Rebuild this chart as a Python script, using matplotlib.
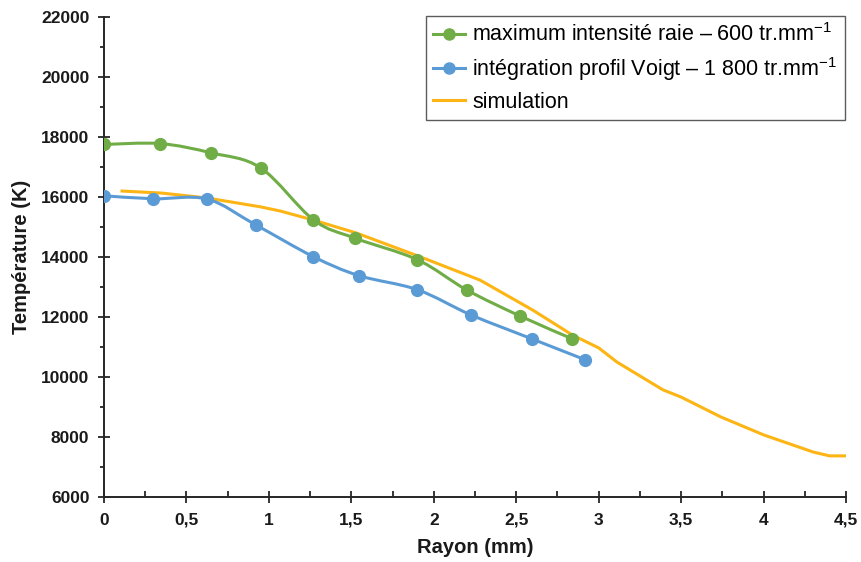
import numpy as np
import matplotlib
matplotlib.use("Agg")
import matplotlib.pyplot as plt
from matplotlib.path import Path
from matplotlib.patches import PathPatch
from matplotlib.lines import Line2D
from matplotlib import font_manager

plt.rcParams["mathtext.fontset"] = "custom"
plt.rcParams["mathtext.rm"] = "Liberation Sans"
plt.rcParams["mathtext.it"] = "Liberation Sans"
plt.rcParams["mathtext.default"] = "rm"

# ---- data ----
green_label = "maximum intensité raie – 600 tr.mm$^{-1}$"
green_x = [0.0, 0.34, 0.65, 0.95, 1.27, 1.52, 1.90, 2.20, 2.52, 2.84]
green_y = [17750, 17780, 17470, 16970, 15240, 14630, 13910, 12900, 12040, 11270]

blue_label = "intégration profil Voigt – 1 800 tr.mm$^{-1}$"
blue_x = [0.0, 0.30, 0.625, 0.92, 1.27, 1.545, 1.90, 2.225, 2.595, 2.92]
blue_y = [16040, 15940, 15930, 15070, 14010, 13380, 12910, 12070, 11270, 10570]

sim_label = "simulation"
sim_x = [0.1, 0.35, 0.62, 0.95, 1.07, 1.27, 1.53, 1.92, 2.28, 2.6, 2.84, 3.0,
         3.11, 3.39, 3.5, 3.74, 4.0, 4.3, 4.4, 4.5]
sim_y = [16200, 16130, 15970, 15670, 15530, 15230, 14800, 14000, 13230, 12230,
         11400, 10970, 10500, 9570, 9330, 8670, 8070, 7500, 7370, 7370]

x_ticks = [0, 0.5, 1, 1.5, 2, 2.5, 3, 3.5, 4, 4.5]
x_ticklabels = ["0", "0,5", "1", "1,5", "2", "2,5", "3", "3,5", "4", "4,5"]
y_ticks = list(range(6000, 22001, 2000))

GREEN = "#70AD47"
BLUE = "#5B9BD5"
ORANGE = "#FDB515"

names = {f.name for f in font_manager.fontManager.ttflist}
narrow = "Liberation Sans Narrow" if "Liberation Sans Narrow" in names else "Liberation Sans"

fig = plt.figure(figsize=(8.61, 5.62), dpi=100)
ax = fig.add_axes([0.1208, 0.1157, 0.8618, 0.8541])


def smooth_path(xs, ys, t=1/6):
    xs = np.asarray(xs, float)
    ys = np.asarray(ys, float)
    n = len(xs)
    verts = [(xs[0], ys[0])]
    codes = [Path.MOVETO]
    for i in range(n - 1):
        p0 = (xs[max(i - 1, 0)], ys[max(i - 1, 0)])
        p1 = (xs[i], ys[i])
        p2 = (xs[i + 1], ys[i + 1])
        p3 = (xs[min(i + 2, n - 1)], ys[min(i + 2, n - 1)])
        c1 = (p1[0] + (p2[0] - p0[0]) * t, p1[1] + (p2[1] - p0[1]) * t)
        c2 = (p2[0] - (p3[0] - p1[0]) * t, p2[1] - (p3[1] - p1[1]) * t)
        verts += [c1, c2, p2]
        codes += [Path.CURVE4] * 3
    return Path(verts, codes)


ax.plot(sim_x, sim_y, color=ORANGE, lw=2.2, zorder=2, solid_capstyle="butt")

for xs, ys, c in [(green_x, green_y, GREEN), (blue_x, blue_y, BLUE)]:
    ax.add_patch(PathPatch(smooth_path(xs, ys), fill=False, edgecolor=c, lw=2.2, zorder=3))
    ax.plot(xs, ys, linestyle="none", marker="o", ms=8.5, color=c, zorder=4)

ax.set_xlim(0, 4.5)
ax.set_ylim(6000, 22000)
ax.set_xticks(x_ticks)
ax.set_xticklabels(x_ticklabels)
ax.set_yticks(y_ticks)
ax.set_xticks(np.arange(0.25, 4.5, 0.5), minor=True)
ax.set_yticks(np.arange(7000, 22000, 2000), minor=True)

for s in ["top", "right"]:
    ax.spines[s].set_visible(False)
for s in ["left", "bottom"]:
    ax.spines[s].set_color("#262626")
    ax.spines[s].set_linewidth(1.4)

ax.tick_params(axis="both", which="major", direction="inout", length=9, width=1.3,
               color="#262626")
ax.tick_params(axis="x", which="major", pad=7)
ax.tick_params(axis="y", which="major", pad=6)
ax.tick_params(axis="x", which="minor", direction="in", length=4, width=1.3, color="#262626")
ax.tick_params(axis="y", which="minor", direction="out", length=3, width=1.3, color="#262626")

for lab in ax.get_xticklabels() + ax.get_yticklabels():
    lab.set_fontfamily(narrow)
    lab.set_fontweight("bold")
    lab.set_fontsize(12.5)
    lab.set_color("#1a1a1a")

ax.set_xlabel("Rayon (mm)", fontfamily="Liberation Sans", fontweight="bold",
              fontsize=14.5, color="#1a1a1a", labelpad=7)
ax.set_ylabel("Température (K)", fontfamily="Liberation Sans", fontweight="bold",
              fontsize=14.5, color="#1a1a1a", labelpad=7)

handles = [
    Line2D([], [], color=GREEN, lw=2.2, marker="o", ms=8),
    Line2D([], [], color=BLUE, lw=2.2, marker="o", ms=8),
    Line2D([], [], color=ORANGE, lw=2.2),
]
leg = ax.legend(handles, [green_label, blue_label, sim_label], loc="upper right",
                bbox_to_anchor=(0.9985, 1.002), frameon=True, fancybox=False,
                prop={"family": "Liberation Sans", "size": 15.5},
                handlelength=1.45, handletextpad=0.35, borderpad=0.35,
                labelspacing=0.4, borderaxespad=0.0)
leg.get_frame().set_edgecolor("#333333")
leg.get_frame().set_linewidth(1.0)

fig.savefig("out.png", dpi=100)
